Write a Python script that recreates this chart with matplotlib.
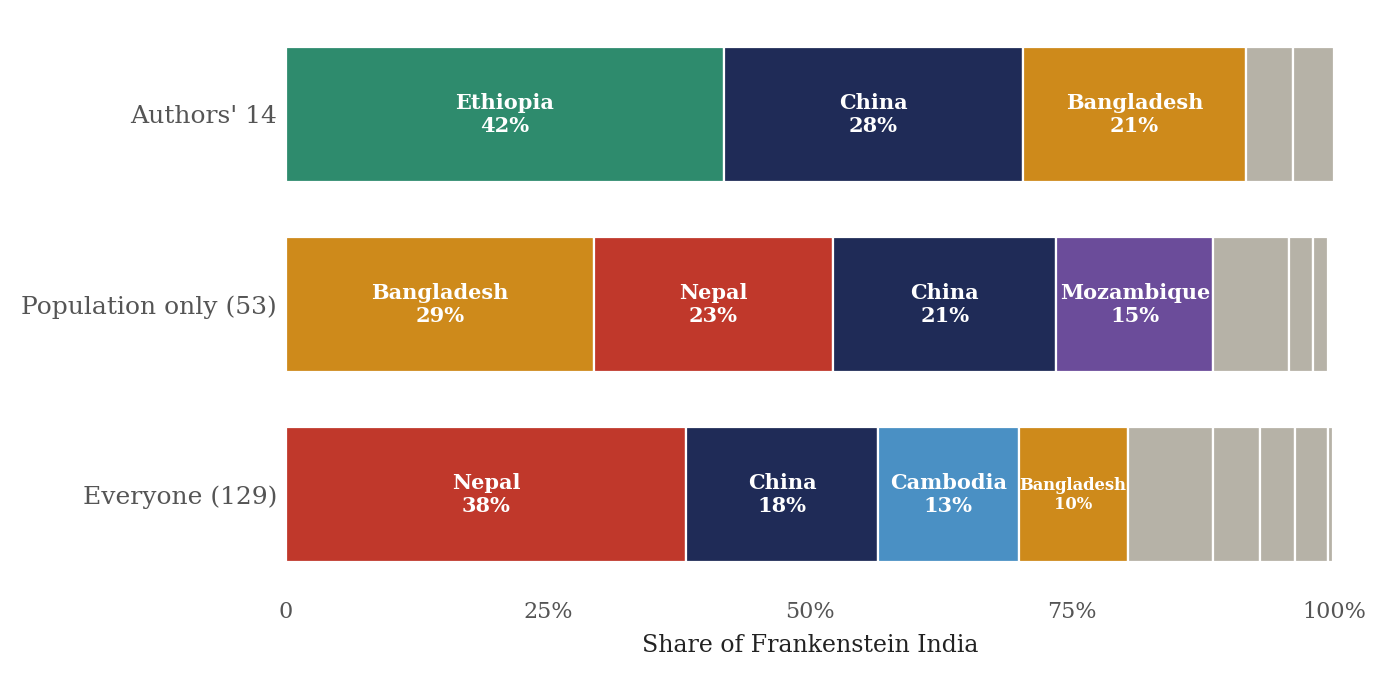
import matplotlib
matplotlib.use("Agg")
import matplotlib.pyplot as plt

plt.rcParams['font.family'] = ['DejaVu Serif']

groups = ["Authors' 14", "Population only (53)", "Everyone (129)"]

authors_names = ["Ethiopia", "China", "Bangladesh", "Other 1", "Other 2"]
authors_vals = [41.8, 28.5, 21.3, 4.5, 3.9]

population_names = ["Bangladesh", "Nepal", "China", "Mozambique", "Other 1", "Other 2", "Other 3"]
population_vals = [29.4, 22.8, 21.3, 15.0, 7.25, 2.2, 1.5]

everyone_names = ["Nepal", "China", "Cambodia", "Bangladesh", "Other 1", "Other 2", "Other 3", "Other 4", "Other 5"]
everyone_vals = [38.2, 18.3, 13.4, 10.4, 8.2, 4.4, 3.4, 3.1, 0.5]

colors = {
    "Ethiopia": "#2E8B6D",
    "China": "#1F2B57",
    "Bangladesh": "#CE8A1B",
    "Nepal": "#C0382B",
    "Mozambique": "#6B4C9A",
    "Cambodia": "#4A90C4",
}
grey = "#B6B2A7"

xticks = [0, 25, 50, 75, 100]
xticklabels = ["0", "25%", "50%", "75%", "100%"]

fig = plt.figure(figsize=(13.86, 6.76), dpi=100)
ax = fig.add_axes([0.2063, 0.1272, 0.7562, 0.8447])

rows = [(authors_names, authors_vals), (population_names, population_vals), (everyone_names, everyone_vals)]
for i, (names, vals) in enumerate(rows):
    left = 0.0
    for name, v in zip(names, vals):
        c = colors.get(name, grey)
        ax.barh(i, v, left=left, height=0.71, color=c, edgecolor="white", linewidth=1.6)
        if name in colors:
            fs = 15 if v >= 12 else 11.8
            ax.text(left + v / 2, i, f"{name}\n{round(v):d}%", ha="center", va="center",
                    color="white", fontweight="bold", fontsize=fs, linespacing=1.18)
        left += v

ax.set_xlim(0, 100)
ax.set_ylim(2.5, -0.5)
ax.set_yticks(range(len(groups)))
ax.set_yticklabels(groups, fontsize=18, color="#555555")
ax.set_xticks(xticks)
ax.set_xticklabels(xticklabels, fontsize=16, color="#555555")
ax.tick_params(axis="y", length=0, pad=6.5)
ax.tick_params(axis="x", length=0, pad=8)
ax.set_xlabel("Share of Frankenstein India", fontsize=17, color="#222222", labelpad=8)
for s in ax.spines.values():
    s.set_visible(False)

fig.savefig("out.png", dpi=100)
